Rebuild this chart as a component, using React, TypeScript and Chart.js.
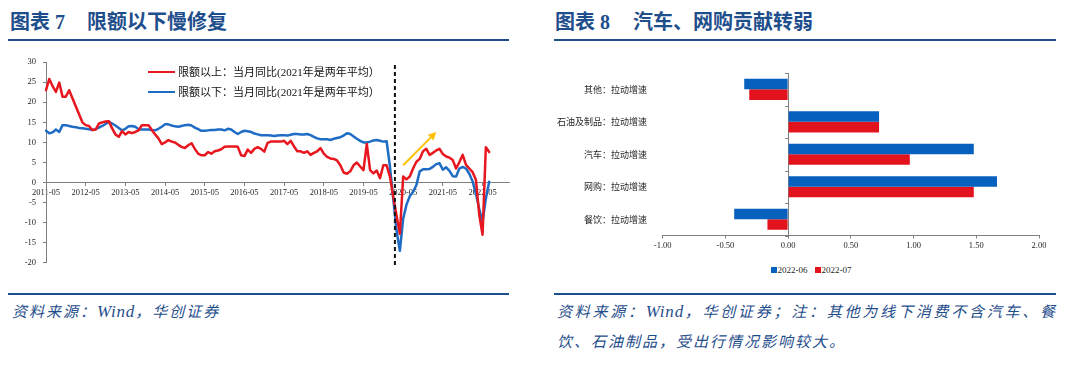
import React, { useEffect, useRef } from 'react';
import { Chart, registerables } from 'chart.js';

Chart.register(...registerables);

// ---------- Figure 7 data ----------
const START_YEAR = 2011;
const START_MONTH = 5;
const MONTH_COUNT = 141; // axis runs 2011-05 .. 2023-01
const monthLabels: string[] = Array.from({ length: MONTH_COUNT }, (_, i) => {
  const m = START_MONTH - 1 + i;
  const y = START_YEAR + Math.floor(m / 12);
  const mm = (m % 12) + 1;
  return `${y}-${String(mm).padStart(2, '0')}`;
});

// 限额以上：当月同比 (2011-05 .. 2022-07)
const aboveQuota: number[] = [
  23.0, 25.8, 24.0, 22.6, 24.9, 21.4, 21.4, 23.0, 21.0, 19.0, 17.0, 15.0,
  14.3, 14.1, 13.1, 13.2, 14.7, 15.0, 15.2, 15.3, 13.5, 12.0, 11.4, 12.8,
  12.0, 12.6, 12.3, 12.6, 13.0, 14.3, 14.3, 14.3, 13.1, 12.0, 11.0, 9.6,
  10.0, 10.6, 10.2, 10.0, 9.4, 8.9, 8.6, 9.3, 9.8, 8.4, 7.2, 6.8,
  6.8, 7.6, 7.2, 7.8, 8.0, 8.3, 8.9, 9.0, 9.0, 9.0, 8.9, 6.8,
  6.6, 8.2, 7.4, 8.4, 8.8, 8.4, 7.7, 9.9, 10.2, 10.2, 10.2, 10.2,
  10.4, 9.6, 10.4, 9.0, 7.8, 7.8, 7.4, 7.8, 6.9, 7.4, 7.8, 8.6,
  7.2, 6.4, 6.0, 5.9, 5.5, 4.3, 2.5, 2.2, 2.8, 4.3, 5.0, 4.0,
  3.1, 9.6, 3.1, 2.3, 3.0, 1.1, 4.3, 4.3, 1.5, -3.5, -8.2, -12.8,
  1.5, 0.8, 1.5, 3.5, 5.2, 5.9, 7.8, 8.4, 6.9, 7.4, 8.0, 8.4,
  7.1, 6.5, 6.2, 5.6, 3.5, 5.1, 6.9, 4.4, 3.5, 2.6, 0.7, -8.0,
  -13.0, 8.8, 7.6,
];

// 限额以下：当月同比 (2011-05 .. 2022-07)
const belowQuota: number[] = [
  12.9, 12.3, 12.5, 13.2, 12.6, 14.3, 14.3, 14.1, 13.9, 13.8, 13.6, 13.5,
  13.4, 13.3, 13.1, 13.3, 13.7, 14.1, 14.6, 15.1, 14.7, 14.2, 13.6, 13.0,
  13.4, 14.0, 14.1, 13.9, 13.3, 13.2, 13.2, 13.2, 13.1, 13.0, 13.4, 13.9,
  14.5, 14.5, 14.2, 14.0, 13.9, 14.1, 14.3, 14.4, 14.2, 13.7, 13.3, 12.9,
  12.9, 13.0, 13.1, 13.1, 13.2, 13.2, 13.0, 13.4, 13.2, 12.6, 12.1, 12.6,
  12.9, 12.8, 12.6, 12.2, 12.0, 11.8, 11.8, 11.8, 11.7, 11.6, 11.7, 11.8,
  11.8, 11.7, 11.9, 12.1, 12.1, 12.0, 12.0, 12.1, 11.8, 11.4, 11.0, 10.8,
  10.8, 10.8, 10.6, 10.9, 11.1, 11.3, 11.7, 12.3, 12.1, 11.5, 10.9, 10.4,
  10.0, 10.0, 10.2, 10.5, 10.6, 10.4, 10.2, 10.3, 4.0, -4.0, -12.0, -17.0,
  -9.0, -5.5, -3.4, -2.3, -0.6, 2.8, 3.3, 3.3, 3.4, 3.9, 4.6, 4.8,
  3.2, 3.8, 2.9, 1.6, 1.5, 3.5, 3.9, 3.5, 2.2, 0.3, -2.8, -6.5,
  -9.8, -4.0, 0.2,
];

const legendAbove = '限额以上：当月同比(2021年是两年平均）';
const legendBelow = '限额以下：当月同比(2021年是两年平均）';
const yTickMin = -20;
const yTickMax = 30;
const yTickStep = 5;
const dividerBetween = ['2020-02', '2020-03'];
const arrowFrom = { month: '2020-05', value: 4.3 };
const arrowTo = { month: '2021-03', value: 12.6 };

// ---------- Figure 8 data ----------
const barCategories = ['其他：拉动增速', '石油及制品：拉动增速', '汽车：拉动增速', '网购：拉动增速', '餐饮：拉动增速'];
const barSeriesNames = ['2022-06', '2022-07'];
const june2022 = [-0.35, 0.725, 1.48, 1.665, -0.43];
const july2022 = [-0.31, 0.725, 0.97, 1.48, -0.165];
const barTickMin = -1;
const barTickMax = 2;
const barTickStep = 0.5;

// ---------- styles ----------
const NAVY = '#1F4E8C';
const RED = '#E8161E';
const BLUE = '#1E6CC4';
const BAR_BLUE = '#0560BE';
const BAR_RED = '#E3131D';
const AXIS = '#7f7f7f';
const TXT = '#262626';
const SERIF = "'Liberation Serif', 'Noto Sans CJK SC', serif";
const CJK = "'Noto Sans CJK SC', sans-serif";

const lineAnnotations = {
  id: 'lineAnnotations',
  afterDatasetsDraw(chart: any) {
    const { ctx, chartArea, scales } = chart;
    const x = scales.x;
    const y = scales.y;
    const i0 = monthLabels.indexOf(dividerBetween[0]);
    const i1 = monthLabels.indexOf(dividerBetween[1]);
    const xd = (x.getPixelForValue(i0) + x.getPixelForValue(i1)) / 2;
    ctx.save();
    ctx.strokeStyle = '#111';
    ctx.lineWidth = 2;
    ctx.setLineDash([4, 3]);
    ctx.beginPath();
    ctx.moveTo(xd, chartArea.top + 3);
    ctx.lineTo(xd, chartArea.bottom + 4);
    ctx.stroke();
    ctx.setLineDash([]);

    const ax1 = x.getPixelForValue(monthLabels.indexOf(arrowFrom.month));
    const ay1 = y.getPixelForValue(arrowFrom.value);
    const ax2 = x.getPixelForValue(monthLabels.indexOf(arrowTo.month));
    const ay2 = y.getPixelForValue(arrowTo.value);
    const ang = Math.atan2(ay2 - ay1, ax2 - ax1);
    const head = 8;
    const hw = 4;
    const bx = ax2 - head * Math.cos(ang);
    const by = ay2 - head * Math.sin(ang);
    ctx.strokeStyle = '#FFC000';
    ctx.fillStyle = '#FFC000';
    ctx.lineWidth = 2;
    ctx.beginPath();
    ctx.moveTo(ax1, ay1);
    ctx.lineTo(bx, by);
    ctx.stroke();
    ctx.beginPath();
    ctx.moveTo(ax2, ay2);
    ctx.lineTo(bx + hw * Math.sin(ang), by - hw * Math.cos(ang));
    ctx.lineTo(bx - hw * Math.sin(ang), by + hw * Math.cos(ang));
    ctx.closePath();
    ctx.fill();
    ctx.restore();
  },
};

const zeroAxisTicks = {
  id: 'zeroAxisTicks',
  afterDraw(chart: any) {
    const { ctx, scales } = chart;
    const x0 = scales.x.getPixelForValue(0);
    ctx.save();
    ctx.strokeStyle = AXIS;
    ctx.lineWidth = 1;
    for (let i = 0; i <= barCategories.length; i++) {
      const yy = Math.round(scales.y.getPixelForValue(i - 0.5)) + 0.5;
      ctx.beginPath();
      ctx.moveTo(x0 - 3, yy);
      ctx.lineTo(x0, yy);
      ctx.stroke();
    }
    ctx.restore();
  },
};

function LineChart() {
  const ref = useRef<HTMLCanvasElement>(null);
  useEffect(() => {
    const chart = new Chart(ref.current as HTMLCanvasElement, {
      type: 'line',
      data: {
        labels: monthLabels,
        datasets: [
          {
            label: legendAbove,
            data: aboveQuota,
            borderColor: RED,
            backgroundColor: RED,
            borderWidth: 2.5,
            pointRadius: 0,
            tension: 0,
            borderJoinStyle: 'round',
            borderCapStyle: 'round',
          },
          {
            label: legendBelow,
            data: belowQuota,
            borderColor: BLUE,
            backgroundColor: BLUE,
            borderWidth: 2.5,
            pointRadius: 0,
            tension: 0,
            borderJoinStyle: 'round',
            borderCapStyle: 'round',
          },
        ],
      },
      options: {
        animation: false,
        responsive: false,
        events: [],
        layout: { padding: { top: 11.6, right: 9, bottom: 8.9, left: 0 } },
        plugins: { legend: { display: false }, tooltip: { enabled: false } },
        scales: {
          x: {
            type: 'category',
            position: { y: 0 } as any,
            offset: false,
            afterFit: (s: any) => { s.height = 0; },
            grid: { drawOnChartArea: false, drawTicks: true, tickLength: 3, color: AXIS },
            border: { color: AXIS, width: 1 },
            ticks: {
              autoSkip: false,
              maxRotation: 0,
              minRotation: 0,
              padding: 2,
              color: TXT,
              font: { family: SERIF, size: 8.5 },
              callback: (_v: any, i: number) => (monthLabels[i].endsWith('-05') ? monthLabels[i] : null),
            },
          },
          y: {
            min: yTickMin,
            max: yTickMax,
            afterFit: (s: any) => { s.width = 38; },
            grid: { drawOnChartArea: false, drawTicks: true, tickLength: 3, color: AXIS },
            border: { color: AXIS, width: 1 },
            ticks: { stepSize: yTickStep, padding: 7, color: TXT, font: { family: SERIF, size: 8.5 } },
          },
        },
      },
      plugins: [lineAnnotations],
    } as any);
    return () => chart.destroy();
  }, []);
  return <canvas ref={ref} width={510} height={225} style={{ position: 'absolute', left: 8, top: 50, width: 510, height: 225 }} />;
}

function BarChart() {
  const ref = useRef<HTMLCanvasElement>(null);
  useEffect(() => {
    const chart = new Chart(ref.current as HTMLCanvasElement, {
      type: 'bar',
      data: {
        labels: barCategories,
        datasets: [
          { label: barSeriesNames[0], data: june2022, backgroundColor: BAR_BLUE, categoryPercentage: 0.65, barPercentage: 1 },
          { label: barSeriesNames[1], data: july2022, backgroundColor: BAR_RED, categoryPercentage: 0.65, barPercentage: 1 },
        ],
      },
      options: {
        indexAxis: 'y',
        animation: false,
        responsive: false,
        events: [],
        layout: { padding: { top: 9.5, right: 26, bottom: 4.5, left: 0 } },
        plugins: { legend: { display: false }, tooltip: { enabled: false } },
        scales: {
          x: {
            min: barTickMin,
            max: barTickMax,
            afterFit: (s: any) => { s.height = 20; },
            grid: {
              drawOnChartArea: true,
              drawTicks: true,
              tickLength: 3,
              color: (c: any) => (c.tick && c.tick.value === 0 ? AXIS : 'rgba(0,0,0,0)'),
              tickColor: AXIS,
            },
            border: { color: AXIS, width: 1 },
            ticks: {
              stepSize: barTickStep,
              padding: 2.4,
              color: TXT,
              font: { family: SERIF, size: 8.5 },
              callback: (v: any) => Number(v).toFixed(2),
            },
          },
          y: {
            afterFit: (s: any) => { s.width = 107.7; },
            grid: { display: false },
            border: { display: false },
            ticks: { padding: 7.7, color: TXT, font: { family: CJK, size: 9 } },
          },
        },
      },
      plugins: [zeroAxisTicks],
    } as any);
    return () => chart.destroy();
  }, []);
  return <canvas ref={ref} width={510} height={200} style={{ position: 'absolute', left: 555, top: 60, width: 510, height: 200 }} />;
}

const abs = (o: React.CSSProperties): React.CSSProperties => ({ position: 'absolute', whiteSpace: 'nowrap', ...o });
const wind: React.CSSProperties = { fontSize: 17, letterSpacing: 0.8 };

export default function App() {
  const titleFont: React.CSSProperties = { fontFamily: SERIF, fontWeight: 700, fontSize: 20, lineHeight: '20px', color: NAVY };
  const footFont: React.CSSProperties = { fontFamily: SERIF, fontStyle: 'italic', fontSize: 15, letterSpacing: 2, lineHeight: '30px', color: NAVY };
  const legendText: React.CSSProperties = { fontFamily: SERIF, fontSize: 11, lineHeight: '14px', color: '#111' };
  const barLegendText: React.CSSProperties = { fontFamily: SERIF, fontSize: 9, lineHeight: '12px', color: TXT };
  return (
    <div style={{ position: 'absolute', left: 0, top: 0, width: 1080, height: 368, background: '#fff', overflow: 'hidden' }}>
      {/* Left panel */}
      <div style={abs({ left: 10, top: 12, ...titleFont })}>图表 7</div>
      <div style={abs({ left: 87, top: 12, ...titleFont })}>限额以下慢修复</div>
      <div style={abs({ left: 8, top: 38.5, width: 501, height: 2.2, background: NAVY })} />
      <LineChart />
      <div style={abs({ left: 148, top: 70.8, width: 27, height: 2.5, background: RED })} />
      <div style={abs({ left: 178, top: 65.3, ...legendText })}>{legendAbove}</div>
      <div style={abs({ left: 148, top: 90.8, width: 27, height: 2.5, background: BLUE })} />
      <div style={abs({ left: 178, top: 85.3, ...legendText })}>{legendBelow}</div>
      <div style={abs({ left: 8, top: 293.3, width: 501, height: 2.2, background: NAVY })} />
      <div style={abs({ left: 12, top: 296.7, ...footFont })}>资料来源：<span style={wind}>Wind</span>，华创证券</div>

      {/* Right panel */}
      <div style={abs({ left: 555, top: 12, ...titleFont })}>图表 8</div>
      <div style={abs({ left: 633, top: 12, ...titleFont })}>汽车、网购贡献转弱</div>
      <div style={abs({ left: 554, top: 38.5, width: 502, height: 2.2, background: NAVY })} />
      <BarChart />
      <div style={abs({ left: 771, top: 267.3, width: 6, height: 6, background: BAR_BLUE })} />
      <div style={abs({ left: 777.5, top: 264.3, ...barLegendText })}>{barSeriesNames[0]}</div>
      <div style={abs({ left: 815, top: 267.3, width: 6, height: 6, background: BAR_RED })} />
      <div style={abs({ left: 821.5, top: 264.3, ...barLegendText })}>{barSeriesNames[1]}</div>
      <div style={abs({ left: 554, top: 293.3, width: 502, height: 2.2, background: NAVY })} />
      <div style={abs({ left: 557, top: 296.7, width: 500, textAlign: 'justify', textAlignLast: 'justify' as any, ...footFont })}>资料来源：<span style={wind}>Wind</span>，华创证券；注：其他为线下消费不含汽车、餐</div>
      <div style={abs({ left: 557, top: 326.7, ...footFont })}>饮、石油制品，受出行情况影响较大。</div>
    </div>
  );
}
